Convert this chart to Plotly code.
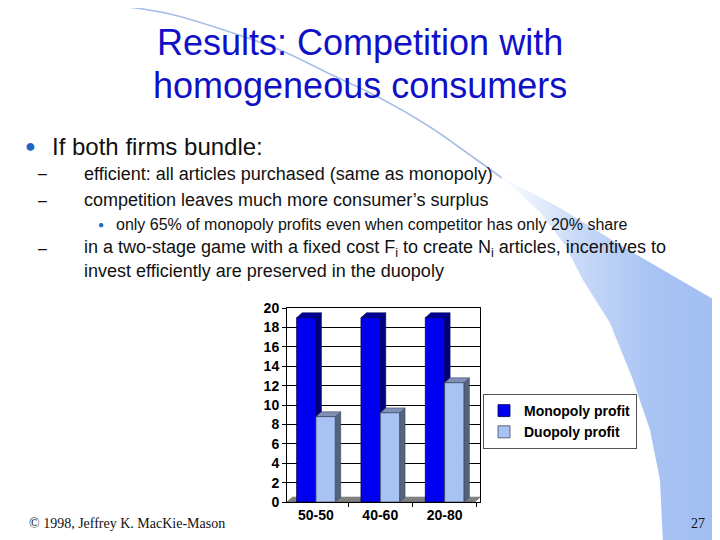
import plotly.graph_objects as go

# ---------------- data ----------------
categories = ["50-50", "40-60", "20-80"]
monopoly_profit = [19.0, 19.0, 19.0]
duopoly_profit = [8.8, 9.2, 12.3]
series_names = ["Monopoly profit", "Duopoly profit"]
y_tick_values = [0, 2, 4, 6, 8, 10, 12, 14, 16, 18, 20]

title_lines = ["Results: Competition with", "homogeneous consumers"]
main_bullet = "If both firms bundle:"
sub_items = [
    "efficient: all articles purchased (same as monopoly)",
    "competition leaves much more consumer\u2019s surplus",
]
subsub_item = "only 65% of monopoly profits even when competitor has only 20% share"
last_item = [
    "in a two-stage game with a fixed cost F<sub>i</sub> to create N<sub>i</sub> articles, incentives to",
    "invest efficiently are preserved in the duopoly",
]
footer_left = "\u00a9 1998, Jeffrey K. MacKie-Mason"
page_number = "27"

# decorative swoosh outline (slide background, page-pixel space)
swoosh_line_x = [0, 60, 120, 170, 230, 280, 330, 380, 430, 470, 502]
swoosh_line_y = [0, 2, 6, 14, 32, 50, 74, 98, 127, 155, 178]
swoosh_upper_x = [500, 560, 620, 680, 718, 718]
swoosh_upper_y = [176, 208, 245, 280, 302, 545]
swoosh_lower_x = [663, 660, 650, 633, 610, 583, 565, 540]
swoosh_lower_y = [545, 480, 430, 380, 323, 280, 245, 212]

# ---------------- style ----------------
W, H = 720, 540
OX, OY = 8, 8          # page offset of the figure (body margin)
FONT = "Liberation Sans, Arial, sans-serif"
BAR_GAP = 0.4
DEPTH_X = 0.085
DEPTH_Y = 0.5
X_RANGE = [-0.45, 2.55]


def fx(x):
    return (x - OX) / W


def fy(y):
    return 1 - (y - OY) / H


fig = go.Figure()

# background swoosh
fig.add_trace(go.Scatter(
    x=swoosh_line_x, y=swoosh_line_y, mode="lines",
    line=dict(color="#A9BEE6", width=1.6, shape="spline"),
    hoverinfo="skip", showlegend=False, xaxis="x", yaxis="y"))
fig.add_trace(go.Scatter(
    x=swoosh_upper_x + swoosh_lower_x, y=swoosh_upper_y + swoosh_lower_y,
    mode="lines", line=dict(width=0, color="rgba(0,0,0,0)"), fill="toself",
    fillgradient=dict(type="horizontal",
                      colorscale=[[0, "#FFFFFF"], [0.35, "#C9DAF8"],
                                  [0.7, "#A8C3F3"], [1, "#A2BEF1"]]),
    hoverinfo="skip", showlegend=False, xaxis="x", yaxis="y"))

# bars
colors_front = ["#0000F0", "#A8C2F4"]
colors_edge = ["#00005A", "#3E4866"]
colors_side = ["#00007A", "#56617E"]
colors_top = ["#000094", "#8191B6"]
for s, vals in enumerate([monopoly_profit, duopoly_profit]):
    fig.add_trace(go.Bar(
        name=series_names[s], x=categories, y=vals,
        marker=dict(color=colors_front[s], line=dict(color=colors_edge[s], width=0.8)),
        xaxis="x2", yaxis="y2"))

# pseudo-3D faces computed from the data
shapes = []
shapes.append(dict(
    type="path", xref="x2", yref="y2", layer="between",
    path=f"M {X_RANGE[0]},0 L {X_RANGE[1] - DEPTH_X},0 L {X_RANGE[1]},{DEPTH_Y} "
         f"L {X_RANGE[0] + DEPTH_X},{DEPTH_Y} Z",
    fillcolor="#808080", line=dict(color="#505050", width=0.6)))
bw = (1 - BAR_GAP) / 2
for s, vals in enumerate([monopoly_profit, duopoly_profit]):
    for i, v in enumerate(vals):
        left = i - bw + s * bw
        right = left + bw
        shapes.append(dict(
            type="path", xref="x2", yref="y2", layer="between",
            path=f"M {right},0 L {right + DEPTH_X},{DEPTH_Y} L {right + DEPTH_X},{v + DEPTH_Y} L {right},{v} Z",
            fillcolor=colors_side[s], line=dict(color=colors_edge[s], width=0.6)))
        shapes.append(dict(
            type="path", xref="x2", yref="y2", layer="between",
            path=f"M {left},{v} L {left + DEPTH_X},{v + DEPTH_Y} L {right + DEPTH_X},{v + DEPTH_Y} L {right},{v} Z",
            fillcolor=colors_top[s], line=dict(color=colors_edge[s], width=0.6)))

# ---------------- text ----------------
ann = []


def text(x, y, s, size, color="#111111", family=FONT, anchor="left"):
    ann.append(dict(x=fx(x), y=fy(y), xref="paper", yref="paper", text=s,
                    showarrow=False, xanchor=anchor, yanchor="middle",
                    font=dict(family=family, size=size, color=color)))


text(360, 42, title_lines[0], 36, color="#1010C8", anchor="center")
text(360, 85, title_lines[1], 36, color="#1010C8", anchor="center")
text(30, 146, "\u25cf", 18, color="#1C64C8", anchor="center")
text(50, 146, main_bullet, 24)
text(36, 174, "\u2013", 16)
text(82, 174, sub_items[0], 18)
text(36, 200, "\u2013", 16)
text(82, 200, sub_items[1], 18)
text(101, 224, "\u25cf", 10, color="#1C64C8", anchor="center")
text(114, 224, subsub_item, 16)
text(36, 248, "\u2013", 16)
text(82, 248, last_item[0], 18)
text(82, 271, last_item[1], 18)
text(27, 523, footer_left, 14, color="#111111", family="Liberation Serif, Times New Roman, serif")
text(698, 523, page_number, 14, color="#111111", family="Liberation Serif, Times New Roman, serif", anchor="center")

fig.update_layout(
    template="none",
    width=W, height=H,
    margin=dict(l=0, r=0, t=0, b=0, pad=0, autoexpand=False),
    paper_bgcolor="white", plot_bgcolor="rgba(0,0,0,0)",
    barmode="group", bargap=BAR_GAP, bargroupgap=0,
    shapes=shapes, annotations=ann,
    xaxis=dict(domain=[0, 1], range=[OX, OX + W], visible=False, fixedrange=True, automargin=False),
    yaxis=dict(domain=[0, 1], range=[OY + H, OY], visible=False, fixedrange=True, automargin=False),
    xaxis2=dict(domain=[fx(287), fx(480)], anchor="y2", type="category", automargin=False,
                range=X_RANGE, showgrid=False, showline=True, linecolor="black",
                linewidth=1, mirror=True, ticks="outside", tickson="boundaries",
                ticklen=4, tickcolor="black",
                tickfont=dict(family=FONT, size=14, color="black", weight="bold")),
    yaxis2=dict(domain=[fy(502), fy(308)], anchor="x2", range=[0, 20], automargin=False,
                tickvals=y_tick_values, showgrid=True, gridcolor="black", gridwidth=1,
                zeroline=False, showline=True, linecolor="black", linewidth=1,
                mirror=True, ticks="outside", ticklen=4, tickcolor="black",
                tickfont=dict(family=FONT, size=14, color="black", weight="bold")),
    legend=dict(x=fx(483), y=fy(394), xanchor="left", yanchor="top",
                bgcolor="white", bordercolor="#555555", borderwidth=1,
                font=dict(family=FONT, size=14, color="black", weight="bold"),
                itemwidth=30, tracegroupgap=0),
    showlegend=True,
)

fig.write_html("out.html")
